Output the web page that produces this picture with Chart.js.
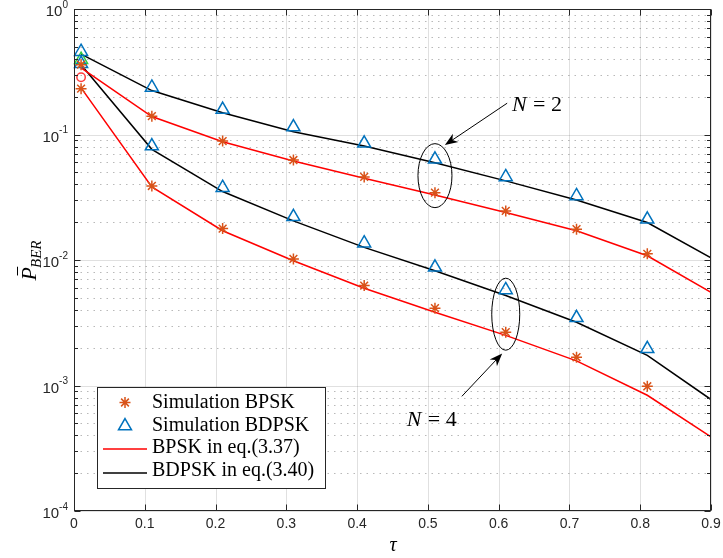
<!DOCTYPE html>
<html>
<head>
<meta charset="utf-8">
<script src="https://cdn.jsdelivr.net/npm/chart.js@4.4.1/dist/chart.umd.min.js"></script>
<style>
  html, body { margin: 0; padding: 0; background: #fff; }
  #wrap { width: 723px; height: 558px; position: relative; }
</style>
</head>
<body>
<div id="wrap"><canvas id="berchart"></canvas></div>
<script>
// tau values where simulations / closed-form curves are evaluated
var tauSim = [0.01, 0.11, 0.21, 0.31, 0.41, 0.51, 0.61, 0.71, 0.81];
var tauEq = [0.01, 0.11, 0.21, 0.31, 0.41, 0.51, 0.61, 0.71, 0.81, 0.9];

// simulation points (N = 2 upper group, N = 4 lower group)
var simBpskN2 = [0.36, 0.140, 0.0886, 0.0626, 0.0459, 0.0344, 0.0246, 0.0176, 0.0112];
var simBpskN4 = [0.232, 0.0389, 0.0178, 0.0102, 0.00625, 0.00413, 0.00266, 0.00168, 0.000986];
var simBdpskN2 = [0.457, 0.237, 0.158, 0.1145, 0.085, 0.0634, 0.0459, 0.0324, 0.0211];
var simBdpskN4 = [0.367, 0.0809, 0.0377, 0.0221, 0.0136, 0.00874, 0.00578, 0.00346, 0.00196];

// analytical curves
var eqBpskN2 = [0.34, 0.139, 0.0875, 0.0615, 0.0448, 0.033, 0.0239, 0.0171, 0.0108, 0.00553];
var eqBpskN4 = [0.235, 0.0382, 0.0171, 0.00987, 0.00595, 0.00384, 0.00251, 0.00157, 0.000836, 0.00039];
var eqBdpskN2 = [0.437, 0.224, 0.149, 0.105, 0.081, 0.0596, 0.0427, 0.0301, 0.0199, 0.0104];
var eqBdpskN4 = [0.36, 0.0762, 0.0351, 0.0205, 0.0126, 0.00822, 0.00521, 0.00319, 0.00174, 0.000773];

// stray markers at tau = 0.01 (not in legend)
var strayTau = [0.01];
var strayGreen = [0.395];
var strayRed = [0.286];

// axes
var xTicks = [0, 0.1, 0.2, 0.3, 0.4, 0.5, 0.6, 0.7, 0.8, 0.9];
var xTickLabels = ['0', '0.1', '0.2', '0.3', '0.4', '0.5', '0.6', '0.7', '0.8', '0.9'];
var yTicks = [1, 0.1, 0.01, 0.001, 0.0001];
var yTickExp = ['0', '-1', '-2', '-3', '-4'];
var legendLabels = ['Simulation BPSK', 'Simulation BDPSK', 'BPSK in eq.(3.37)', 'BDPSK in eq.(3.40)'];

var STAR = '#D95319', TRI = '#0072BD', AXIS = '#262626';
var SERIF = '"Liberation Serif", "Times New Roman", serif';
var SANS = '"Liberation Sans", Arial, sans-serif';

function pts(xs, ys) {
    return ys.map(function (v, i) { return { x: xs[i], y: v }; });
}

function markerSet(xs, ys, style, color, radius) {
    return {
        data: pts(xs, ys),
        showLine: false,
        pointStyle: style,
        pointRadius: radius,
        pointBorderColor: color,
        pointBackgroundColor: 'rgba(0,0,0,0)',
        pointBorderWidth: 1.5,
        borderColor: color,
        clip: false
    };
}

function lineSet(xs, ys, color) {
    return {
        data: pts(xs, ys),
        borderColor: color,
        borderWidth: 1.5,
        pointRadius: 0,
        tension: 0,
        fill: false
    };
}

function drawArrow(ctx, x1, y1, x2, y2) {
    var ang = Math.atan2(y2 - y1, x2 - x1);
    var L = 13, W = 5;
    ctx.beginPath();
    ctx.moveTo(x1, y1);
    ctx.lineTo(x2 - Math.cos(ang) * 8, y2 - Math.sin(ang) * 8);
    ctx.stroke();
    ctx.save();
    ctx.translate(x2, y2);
    ctx.rotate(ang);
    ctx.beginPath();
    ctx.moveTo(0, 0);
    ctx.lineTo(-L, -W);
    ctx.lineTo(-L * 0.7, 0);
    ctx.lineTo(-L, W);
    ctx.closePath();
    ctx.fill();
    ctx.restore();
}

function drawN(ctx, x, y, num) {
    ctx.textAlign = 'left';
    ctx.textBaseline = 'alphabetic';
    ctx.font = 'italic 22px ' + SERIF;
    ctx.fillText('N', x, y);
    ctx.font = '22px ' + SERIF;
    ctx.fillText('=', x + 21, y);
    ctx.fillText(num, x + 39, y);
}

var gridPlugin = {
    id: 'gridPlugin',
    beforeDatasetsDraw: function (chart) {
        var ctx = chart.ctx, a = chart.chartArea, xs = chart.scales.x, ys = chart.scales.y;
        ctx.save();
        ctx.lineWidth = 1;
        // minor horizontal dotted grid
        ctx.strokeStyle = 'rgba(38,38,38,0.32)';
        ctx.setLineDash([1.5, 5]);
        for (var d = -4; d < 0; d++) {
            for (var m = 2; m <= 9; m++) {
                var y = Math.round(ys.getPixelForValue(m * Math.pow(10, d))) + 0.5;
                ctx.beginPath(); ctx.moveTo(a.left, y); ctx.lineTo(a.right, y); ctx.stroke();
            }
        }
        ctx.setLineDash([]);
        ctx.strokeStyle = 'rgba(38,38,38,0.14)';
        xTicks.forEach(function (t) {
            var x = Math.round(xs.getPixelForValue(t)) + 0.5;
            ctx.beginPath(); ctx.moveTo(x, a.top); ctx.lineTo(x, a.bottom); ctx.stroke();
        });
        yTicks.forEach(function (t) {
            var y = Math.round(ys.getPixelForValue(t)) + 0.5;
            ctx.beginPath(); ctx.moveTo(a.left, y); ctx.lineTo(a.right, y); ctx.stroke();
        });
        ctx.restore();
    },
    afterDraw: function (chart) {
        var ctx = chart.ctx, a = chart.chartArea, xs = chart.scales.x, ys = chart.scales.y;
        ctx.save();
        // frame and ticks
        ctx.strokeStyle = AXIS;
        ctx.lineWidth = 1;
        var L = Math.round(a.left) + 0.5, R = Math.round(a.right) - 0.5;
        var T = Math.round(a.top) + 0.5, B = Math.round(a.bottom) - 0.5;
        ctx.strokeRect(L, T, R - L, B - T);
        ctx.beginPath();
        xTicks.forEach(function (t) {
            var x = Math.round(xs.getPixelForValue(t)) + 0.5;
            ctx.moveTo(x, B); ctx.lineTo(x, B - 6);
            ctx.moveTo(x, T); ctx.lineTo(x, T + 6);
        });
        for (var d = -4; d <= 0; d++) {
            for (var m = 1; m <= 9; m++) {
                if (d === 0 && m > 1) break;
                var y = Math.round(ys.getPixelForValue(m * Math.pow(10, d))) + 0.5;
                var len = m === 1 ? 6 : 3.5;
                ctx.moveTo(L, y); ctx.lineTo(L + len, y);
                ctx.moveTo(R, y); ctx.lineTo(R - len, y);
            }
        }
        ctx.stroke();

        // tick labels
        ctx.fillStyle = AXIS;
        ctx.font = '14px ' + SANS;
        ctx.textAlign = 'center';
        ctx.textBaseline = 'middle';
        xTicks.forEach(function (t, i) {
            ctx.fillText(xTickLabels[i], xs.getPixelForValue(t), a.bottom + 13);
        });
        yTicks.forEach(function (t, i) {
            var y = ys.getPixelForValue(t);
            ctx.font = '10px ' + SANS;
            var sw = ctx.measureText(yTickExp[i]).width;
            ctx.textAlign = 'right';
            ctx.fillText(yTickExp[i], a.left - 6, y - 4);
            ctx.font = '15px ' + SANS;
            ctx.fillText('10', a.left - 6 - sw, y + 3);
        });

        // axis titles
        ctx.fillStyle = '#000';
        ctx.font = 'italic 20px ' + SERIF;
        ctx.textAlign = 'center';
        ctx.textBaseline = 'alphabetic';
        ctx.fillText('\u03c4', (a.left + a.right) / 2 + 0.5, 551);

        ctx.save();
        ctx.translate(36, 260);
        ctx.rotate(-Math.PI / 2);
        ctx.textAlign = 'left';
        ctx.font = 'italic 22px ' + SERIF;
        var pw = ctx.measureText('P').width;
        ctx.font = 'italic 15px ' + SERIF;
        var bw = ctx.measureText('BER').width;
        var x0 = -(pw + bw) / 2;
        ctx.font = 'italic 22px ' + SERIF;
        ctx.fillText('P', x0, 0);
        ctx.fillRect(x0 + 5, -19, pw * 0.65, 1);
        ctx.font = 'italic 15px ' + SERIF;
        ctx.fillText('BER', x0 + pw - 1, 5);
        ctx.restore();

        // annotations: ellipses, arrows, N labels
        ctx.strokeStyle = '#000';
        ctx.fillStyle = '#000';
        ctx.lineWidth = 1;
        ctx.beginPath();
        ctx.ellipse(xs.getPixelForValue(0.51), ys.getPixelForValue(0.047), 17, 32, 0, 0, Math.PI * 2);
        ctx.stroke();
        ctx.beginPath();
        ctx.ellipse(xs.getPixelForValue(0.61), ys.getPixelForValue(0.0037), 14, 36, 0, 0, Math.PI * 2);
        ctx.stroke();
        drawArrow(ctx, xs.getPixelForValue(0.612), ys.getPixelForValue(0.1776),
            xs.getPixelForValue(0.524), ys.getPixelForValue(0.0824));
        drawArrow(ctx, xs.getPixelForValue(0.548), ys.getPixelForValue(0.00082),
            xs.getPixelForValue(0.605), ys.getPixelForValue(0.0018));
        drawN(ctx, xs.getPixelForValue(0.619), ys.getPixelForValue(0.155), '2');
        drawN(ctx, xs.getPixelForValue(0.47), ys.getPixelForValue(0.00048), '4');

        // legend box
        var lx = 97.5, ly = 387.5, lw = 228, lh = 101;
        ctx.fillStyle = '#fff';
        ctx.fillRect(lx, ly, lw, lh);
        ctx.strokeStyle = AXIS;
        ctx.strokeRect(lx, ly, lw, lh);
        var base = [408, 430.5, 453, 475.5];
        ctx.font = '20px ' + SERIF;
        ctx.fillStyle = '#000';
        ctx.textAlign = 'left';
        ctx.textBaseline = 'alphabetic';
        legendLabels.forEach(function (lab, i) {
            ctx.fillText(lab, 152, base[i]);
        });
        ctx.lineWidth = 1.5;
        ctx.fillStyle = 'rgba(0,0,0,0)';
        ctx.strokeStyle = STAR;
        Chart.helpers.drawPoint(ctx, { pointStyle: 'star', radius: 5.5, rotation: 0, borderWidth: 1.5 }, 125, base[0] - 5.5);
        ctx.strokeStyle = TRI;
        Chart.helpers.drawPoint(ctx, { pointStyle: 'triangle', radius: 7.5, rotation: 0, borderWidth: 1.5 }, 125, base[1] - 4.5);
        ctx.strokeStyle = '#FF0000';
        ctx.beginPath(); ctx.moveTo(103, base[2] - 4); ctx.lineTo(147, base[2] - 4); ctx.stroke();
        ctx.strokeStyle = '#000';
        ctx.beginPath(); ctx.moveTo(103, base[3] - 2.5); ctx.lineTo(147, base[3] - 2.5); ctx.stroke();
        ctx.restore();
    }
};

document.addEventListener('DOMContentLoaded', function () {
    var ctx = document.getElementById('berchart').getContext('2d');
    new Chart(ctx, {
        type: 'line',
        data: {
            datasets: [
                markerSet(tauSim, simBpskN2, 'star', STAR, 5.5),
                markerSet(tauSim, simBpskN4, 'star', STAR, 5.5),
                markerSet(tauSim, simBdpskN2, 'triangle', TRI, 7.5),
                markerSet(tauSim, simBdpskN4, 'triangle', TRI, 7.5),
                markerSet(strayTau, strayGreen, 'triangle', '#2ecc40', 7.5),
                markerSet(strayTau, strayRed, 'circle', '#ff3b3b', 4.2),
                lineSet(tauEq, eqBpskN2, '#FF0000'),
                lineSet(tauEq, eqBpskN4, '#FF0000'),
                lineSet(tauEq, eqBdpskN2, '#000000'),
                lineSet(tauEq, eqBdpskN4, '#000000')
            ]
        },
        options: {
            responsive: true,
            maintainAspectRatio: false,
            animation: false,
            devicePixelRatio: 1,
            layout: { padding: { left: 0, right: 12, top: 7, bottom: 0 } },
            plugins: { legend: { display: false }, tooltip: { enabled: false } },
            scales: {
                x: {
                    type: 'linear', min: 0, max: 0.9,
                    grid: { display: false }, border: { display: false },
                    ticks: { display: false },
                    afterFit: function (s) { s.height = 47; }
                },
                y: {
                    type: 'logarithmic', min: 0.0001, max: 1,
                    grid: { display: false }, border: { display: false },
                    ticks: { display: false },
                    afterFit: function (s) { s.width = 74; }
                }
            }
        },
        plugins: [gridPlugin]
    });
});
</script>
</body>
</html>
